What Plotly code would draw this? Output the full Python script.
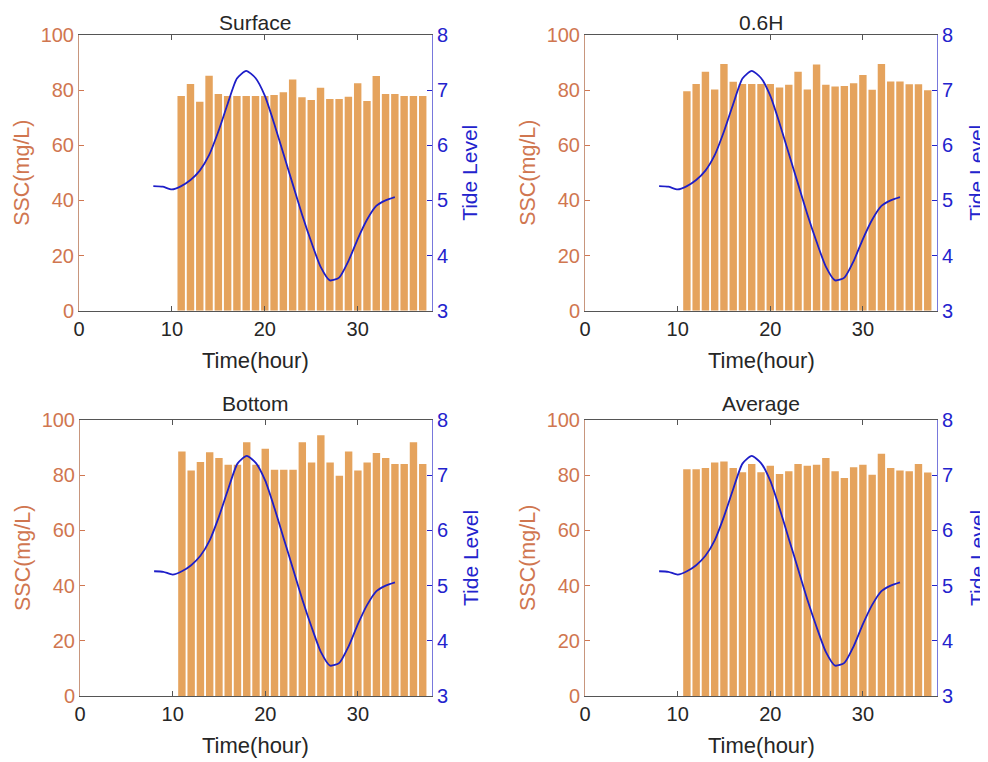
import plotly.graph_objects as go

# ---------------- data ----------------
hours = list(range(11, 38))
surface = [77.9, 82.2, 75.8, 85.2, 78.6, 77.9, 77.9, 77.9, 77.9, 77.9, 78.2, 79.2, 83.9, 77.4,
           76.4, 80.9, 76.8, 76.8, 77.6, 82.5, 76.1, 85.1, 78.6, 78.6, 77.9, 77.9, 77.9]
h06 = [79.6, 82.2, 86.7, 80.2, 89.5, 83.0, 82.2, 82.2, 82.2, 82.2, 81.0, 82.0, 86.7, 80.2,
       89.3, 82.0, 81.3, 81.5, 82.5, 85.5, 80.1, 89.5, 83.1, 83.1, 82.1, 82.1, 80.0]
bottom = [88.6, 81.7, 84.8, 88.3, 86.2, 83.8, 83.8, 91.9, 83.8, 89.6, 82.0, 82.0, 82.0, 91.9,
          84.6, 94.5, 84.6, 79.8, 88.6, 81.7, 84.6, 88.0, 86.2, 84.1, 84.1, 91.9, 84.1]
average = [82.2, 82.2, 82.6, 84.6, 85.0, 82.6, 81.1, 84.1, 81.1, 83.4, 80.4, 81.4, 84.1, 83.4,
           83.8, 86.2, 81.4, 79.0, 82.9, 83.8, 80.2, 87.8, 82.6, 81.7, 81.4, 84.1, 81.0]

tide_hours = list(range(8, 35))
tide = [5.26, 5.25, 5.20, 5.26, 5.37, 5.54, 5.82, 6.25, 6.75, 7.21, 7.35, 7.22, 6.90, 6.40,
        5.85, 5.30, 4.75, 4.25, 3.80, 3.55, 3.60, 3.90, 4.30, 4.65, 4.90, 5.00, 5.06]

titles = ["Surface", "0.6H", "Bottom", "Average"]
series = [surface, h06, bottom, average]
x_ticks = [0, 10, 20, 30]

# ---------------- style ----------------
OX, OY = 8, 8                 # page body offset of the figure
W, H = 988 - OX, 762 - OY     # figure size
FONT = "Liberation Sans, Arial, sans-serif"
BAR_C = "#E5A35D"
LEFT_C = "rgb(208,118,80)"
RIGHT_C = "rgb(35,35,205)"
LINE_C = "rgb(30,30,200)"
GRAY = "#555555"
TXT = "#262626"

def px(x):
    return (x - OX) / W

def py(y):
    return 1 - (y - OY) / H

# panel boxes in screen pixels: (left, right, top, bottom)
boxes = [(79, 432, 35, 310.7), (585, 937, 35, 310.7),
         (80, 432, 420, 696), (585, 937, 420, 696)]
title_y = [22, 22, 403, 403]

fig = go.Figure()
layout = dict(width=W, height=H, autosize=False,
              margin=dict(l=0, r=0, t=0, b=0, pad=0, autoexpand=False),
              paper_bgcolor="white", plot_bgcolor="white", showlegend=False,
              font=dict(family=FONT, size=20, color=TXT))
annotations = []

for i in range(4):
    L, R, T, B = boxes[i]
    xd = [px(L), px(R)]
    yd = [py(B), py(T)]
    xa = f"x{i+1}" if i else "x"
    ya_l = f"y{2*i+1}" if i else "y"
    ya_r = f"y{2*i+2}"
    fig.add_trace(go.Bar(x=hours, y=series[i], width=0.8,
                         marker=dict(color=BAR_C, line=dict(width=0)),
                         xaxis=xa, yaxis=ya_l))
    fig.add_trace(go.Scatter(x=tide_hours, y=tide, mode="lines",
                             line=dict(color=LINE_C, width=1.8, shape="spline", smoothing=0.6),
                             xaxis=xa, yaxis=ya_r))
    xkey = "xaxis" + (str(i + 1) if i else "")
    ylkey = "yaxis" + (str(2 * i + 1) if i else "")
    yrkey = "yaxis" + str(2 * i + 2)
    layout[xkey] = dict(domain=xd, anchor=ya_l, range=[0, 38], tickvals=x_ticks, automargin=False,
                        ticks="inside", ticklen=5, tickcolor=GRAY, showline=True, linecolor=GRAY,
                        linewidth=1, mirror="ticks", showgrid=False, zeroline=False,
                        tickfont=dict(size=20, color=TXT, family=FONT))
    layout[ylkey] = dict(domain=yd, anchor=xa, range=[0, 100], dtick=20, ticks="inside", ticklen=5,
                         automargin=False,
                         tickcolor=LEFT_C, showline=True, linecolor="rgb(200,150,125)", linewidth=1,
                         showgrid=False, zeroline=False,
                         tickfont=dict(size=20, color=LEFT_C, family=FONT))
    layout[yrkey] = dict(domain=yd, anchor=xa, overlaying=ya_l, side="right", range=[3, 8], dtick=1,
                         automargin=False,
                         ticks="inside", ticklen=5, tickcolor=RIGHT_C, showline=True,
                         linecolor="rgb(120,120,220)", linewidth=1, showgrid=False, zeroline=False,
                         tickfont=dict(size=20, color=RIGHT_C, family=FONT))
    cx = px((L + R) / 2)
    annotations.append(dict(text=titles[i], x=cx, y=py(title_y[i]), xref="paper", yref="paper",
                            showarrow=False, font=dict(size=21, color=TXT, family=FONT),
                            xanchor="center", yanchor="middle"))
    annotations.append(dict(text="Time(hour)", x=cx, y=py(B + 49.5), xref="paper", yref="paper",
                            showarrow=False, font=dict(size=22, color=TXT, family=FONT),
                            xanchor="center", yanchor="middle"))
    cy = py((T + B) / 2)
    annotations.append(dict(text="SSC(mg/L)", x=px(L - 57), y=cy, xref="paper", yref="paper",
                            showarrow=False, textangle=-90,
                            font=dict(size=21.5, color=LEFT_C, family=FONT),
                            xanchor="center", yanchor="middle"))
    annotations.append(dict(text="Tide Level", x=px(R + (40 if i % 2 else 38)), y=cy, xref="paper",
                            yref="paper", showarrow=False, textangle=-90,
                            font=dict(size=21, color=RIGHT_C, family=FONT),
                            xanchor="center", yanchor="middle"))

layout["annotations"] = annotations
fig.update_layout(**layout)
fig.write_html("out.html")
